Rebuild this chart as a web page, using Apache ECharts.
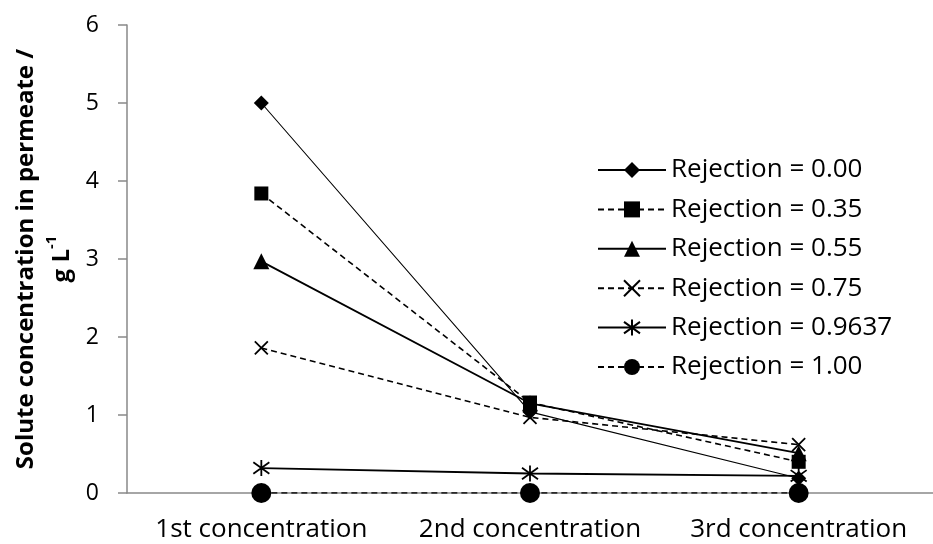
<!DOCTYPE html>
<html>
<head>
<meta charset="utf-8">
<script src="https://cdn.jsdelivr.net/npm/echarts@6/dist/echarts.min.js"></script>
<style>
  html, body { margin: 0; padding: 0; background: #fff; }
  #chart { width: 933px; height: 544px; }
</style>
</head>
<body>
<div id="chart"></div>
<script>
// Permeate solute concentration for each rejection coefficient
const categories = ['1st concentration', '2nd concentration', '3rd concentration'];
const seriesNames = ['Rejection = 0.00', 'Rejection = 0.35', 'Rejection = 0.55',
                     'Rejection = 0.75', 'Rejection = 0.9637', 'Rejection = 1.00'];
const rej000 = [5.00, 1.04, 0.19];
const rej035 = [3.84, 1.16, 0.40];
const rej055 = [2.97, 1.15, 0.51];
const rej075 = [1.86, 0.97, 0.62];
const rej09637 = [0.32, 0.25, 0.22];
const rej100 = [0.00, 0.00, 0.00];
const yTicks = [0, 1, 2, 3, 4, 5, 6];

const FONT = 'Open Sans';
const crossPath = 'path://M0 0 L10 10 M10 0 L0 10';
const starPath = 'path://M0 0 L10 10 M10 0 L0 10 M5 -2 L5 12';

function makeSeries(name, data, dashed, width, symbol, size, outline) {
  return {
    name: name,
    type: 'line',
    data: data,
    symbol: symbol,
    symbolSize: size,
    showAllSymbol: true,
    lineStyle: { color: '#000', width: width, type: dashed ? [6, 4] : 'solid' },
    itemStyle: outline
      ? { color: 'rgba(0,0,0,0)', borderColor: '#000', borderWidth: 1.8 }
      : { color: '#000', borderWidth: 0 },
    emphasis: { disabled: true },
    animation: false
  };
}

const series = [
  makeSeries(seriesNames[0], rej000, false, 1.1, 'diamond', 15, false),
  makeSeries(seriesNames[1], rej035, true, 1.6, 'rect', 14, false),
  makeSeries(seriesNames[2], rej055, false, 1.8, 'triangle', 16, false),
  makeSeries(seriesNames[3], rej075, true, 1.6, crossPath, 13, true),
  makeSeries(seriesNames[4], rej09637, false, 1.8, starPath, 16, true),
  makeSeries(seriesNames[5], rej100, true, 1.6, 'circle', 20, false)
];

const chart = echarts.init(document.getElementById('chart'), null, { renderer: 'canvas' });
chart.setOption({
  backgroundColor: '#fff',
  animation: false,
  grid: { left: 127, top: 25, bottom: 51, right: -11, containLabel: false },
  legend: {
    data: seriesNames,
    orient: 'vertical',
    left: 592,
    top: 152,
    itemWidth: 68,
    itemHeight: 20,
    itemGap: 13.4,
    textStyle: { fontFamily: FONT, fontSize: 26, color: '#000' },
    inactiveColor: '#000'
  },
  xAxis: {
    type: 'category',
    data: categories,
    boundaryGap: true,
    axisLine: { lineStyle: { color: '#898989', width: 1.5 } },
    axisTick: { show: false },
    axisLabel: { fontFamily: FONT, fontSize: 26, color: '#000', margin: 24, interval: 0, hideOverlap: false }
  },
  yAxis: {
    type: 'value',
    min: yTicks[0],
    max: yTicks[yTicks.length - 1],
    interval: 1,
    splitLine: { show: false },
    axisLine: { show: true, lineStyle: { color: '#898989', width: 1.5 } },
    axisTick: { show: true, length: 9, lineStyle: { color: '#898989', width: 1.5 } },
    axisLabel: { fontFamily: FONT, fontSize: 23, color: '#000', margin: 28 },
    name: '{t|Solute concentration in permeate /}\n{t|g L}{sup|-1}',
    nameLocation: 'middle',
    nameRotate: 90,
    nameGap: 47,
    nameTextStyle: {
      rich: {
        t: { fontFamily: FONT, fontSize: 24, fontWeight: 'bold', color: '#000', lineHeight: 36 },
        sup: { fontFamily: FONT, fontSize: 15, fontWeight: 'bold', color: '#000', verticalAlign: 'top', lineHeight: 30 }
      }
    }
  },
  series: series
});
</script>
</body>
</html>
